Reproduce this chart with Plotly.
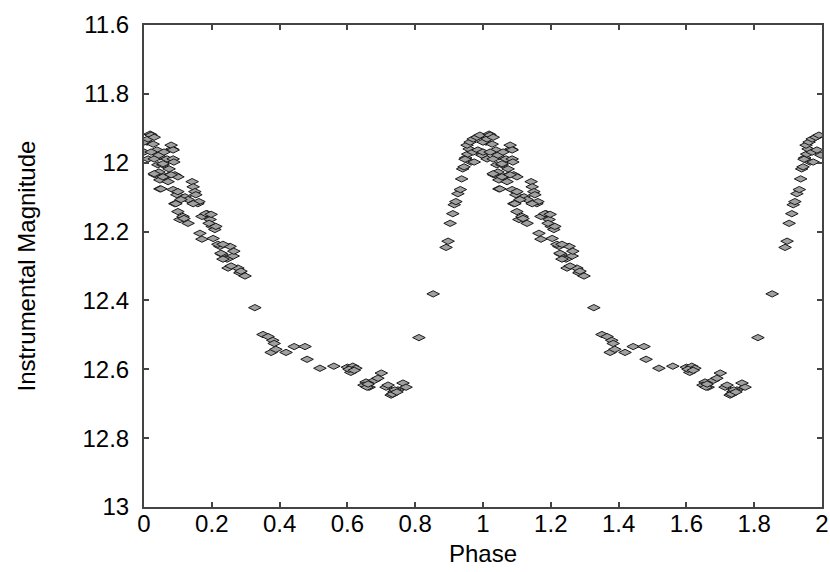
import plotly.graph_objects as go

# Phase-folded light curve (one cycle, phase 0-1); plotted twice (0-1 and 1-2)
phase = [
    0.000, 0.009, 0.018, 0.027, 0.038, 0.047, 0.041, 0.056, 0.068, 0.083,
    0.086, 0.032, 0.047, 0.062, 0.077, 0.091, 0.047, 0.086, 0.097, 0.091,
    0.121, 0.130, 0.142, 0.145, 0.150, 0.159, 0.100, 0.106, 0.115, 0.171,
    0.186, 0.195, 0.201, 0.209, 0.165, 0.171, 0.204, 0.224, 0.254, 0.230,
    0.245, 0.263, 0.248, 0.277, 0.283, 0.298,
    0.000, 0.012, 0.021, 0.030, 0.012, 0.021, 0.030, 0.044, 0.056, 0.059,
    0.080, 0.086, 0.074, 0.088, 0.044, 0.030, 0.056, 0.071, 0.050, 0.100,
    0.080, 0.100, 0.094, 0.109,
    0.153, 0.162, 0.145, 0.118, 0.130, 0.183, 0.198, 0.192, 0.212, 0.218,
    0.233, 0.265, 0.227, 0.233, 0.257, 0.286,
    0.327, 0.351, 0.366, 0.380, 0.384, 0.375, 0.389, 0.419, 0.443, 0.475,
    0.481, 0.519, 0.560, 0.600, 0.616, 0.625, 0.610, 0.655, 0.664, 0.649,
    0.680, 0.700, 0.690, 0.714, 0.729, 0.737, 0.749, 0.764, 0.773, 0.811,
    0.853, 0.605, 0.620, 0.658, 0.661, 0.720, 0.740, 0.733, 0.746,
    0.891, 0.897, 0.903, 0.911, 0.915, 0.920, 0.926, 0.933, 0.937, 0.940,
    0.949, 0.955, 0.959, 0.965, 0.974,
    0.944, 0.947, 0.953, 0.962, 0.971, 0.982, 0.991, 0.971, 0.985, 0.997,
]
magnitude = [
    11.969, 11.940, 11.917, 11.946, 11.963, 11.983, 12.006, 12.006, 11.989, 11.960,
    11.989, 12.035, 12.050, 12.041, 12.035, 12.035, 12.076, 12.078, 12.093, 12.119,
    12.099, 12.107, 12.055, 12.070, 12.084, 12.119, 12.142, 12.165, 12.156, 12.156,
    12.148, 12.165, 12.185, 12.194, 12.205, 12.222, 12.220, 12.243, 12.243, 12.266,
    12.280, 12.271, 12.306, 12.306, 12.320, 12.329,
    11.940, 11.931, 11.920, 11.926, 11.989, 11.969, 11.989, 11.978, 12.003, 11.969,
    11.949, 11.963, 12.018, 11.998, 12.027, 12.032, 12.041, 12.055, 12.076, 12.041,
    12.035, 12.084, 12.119, 12.107,
    12.093, 12.113, 12.119, 12.162, 12.176, 12.148, 12.150, 12.176, 12.185, 12.237,
    12.237, 12.257, 12.263, 12.280, 12.300, 12.315,
    12.421, 12.499, 12.505, 12.516, 12.525, 12.551, 12.542, 12.551, 12.534, 12.534,
    12.571, 12.597, 12.591, 12.594, 12.591, 12.597, 12.609, 12.637, 12.652, 12.646,
    12.632, 12.611, 12.626, 12.652, 12.675, 12.666, 12.660, 12.640, 12.652, 12.508,
    12.381, 12.600, 12.603, 12.652, 12.643, 12.646, 12.660, 12.672, 12.666,
    12.246, 12.228, 12.176, 12.148, 12.122, 12.113, 12.090, 12.078, 12.047, 12.018,
    11.986, 11.975, 11.960, 11.998, 11.998,
    12.012, 11.990, 11.949, 11.940, 11.931, 11.926, 11.920, 11.969, 11.963, 11.978,
]

x_ticks = [0, 0.2, 0.4, 0.6, 0.8, 1, 1.2, 1.4, 1.6, 1.8, 2]
y_ticks = [11.6, 11.8, 12, 12.2, 12.4, 12.6, 12.8, 13]

phase_all = phase + [p + 1 for p in phase]
mag_all = magnitude + magnitude

fig = go.Figure()
fig.add_trace(go.Scatter(
    x=phase_all, y=mag_all, mode="markers",
    marker=dict(symbol="diamond-wide", size=9, color="#a0a0a0",
                line=dict(color="#1a1a1a", width=1)),
    cliponaxis=True, showlegend=False,
))

font = dict(family="Liberation Sans, Arial, sans-serif", size=24, color="#000000")
axis_common = dict(
    showline=True, linecolor="#444444", linewidth=2, mirror="allticks",
    ticks="inside", ticklen=5, tickwidth=2, tickcolor="#444444",
    showgrid=False, zeroline=False, tickfont=font, automargin=False,
)
fig.update_xaxes(range=[0, 2], tickvals=x_ticks, ticklabelstandoff=-6,
                 title=dict(text="Phase", font=font, standoff=9),
                 **axis_common)
fig.update_yaxes(range=[13, 11.6], tickvals=y_ticks, ticklabelstandoff=8,
                 title=dict(text="Instrumental Magnitude", font=font, standoff=40),
                 **axis_common)
fig.update_layout(
    width=830, height=572,
    margin=dict(l=144, r=8, t=25, b=65),
    plot_bgcolor="white", paper_bgcolor="white",
)
fig.write_html("out.html", config={"displayModeBar": False},
               post_script="document.body.style.margin='0';document.body.style.overflow='hidden';")
